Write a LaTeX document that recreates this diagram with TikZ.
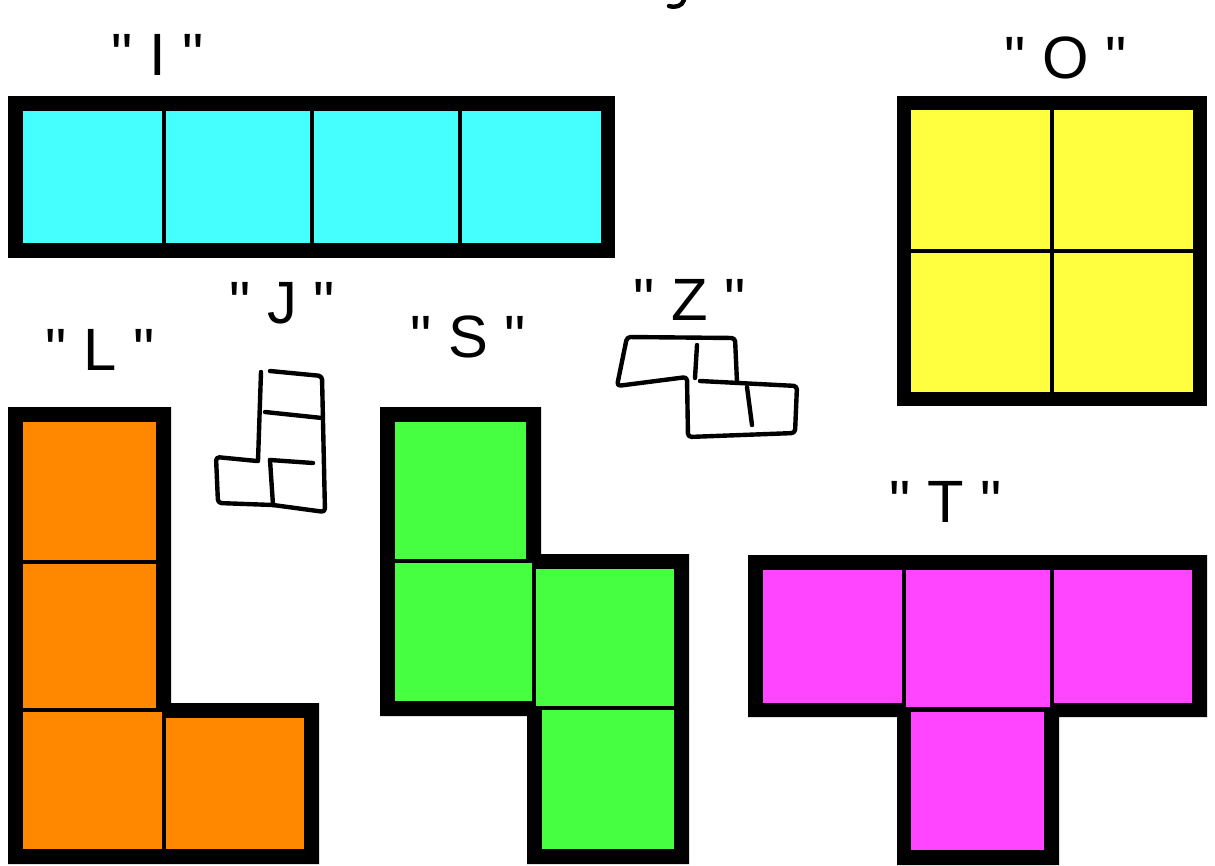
\documentclass[tikz,border=0pt]{standalone}
\usepackage{fontspec}
\newfontfamily\tagfont{Liberation Sans}
\definecolor{icyan}{HTML}{45FFFF}
\definecolor{oyellow}{HTML}{FFFF40}
\definecolor{lorange}{HTML}{FF8800}
\definecolor{sgreen}{HTML}{45FF40}
\definecolor{tmagenta}{HTML}{FF45FF}
\begin{document}
\begin{tikzpicture}[x=0.02cm, y=-0.02cm,
    frame/.style={fill=black},
    sketch/.style={draw=black, line width=2.5pt, line cap=round, line join=round, rounded corners=2pt},
    tag/.style={font=\tagfont\fontsize{34}{34}\selectfont, anchor=base, inner sep=0pt}
]
\useasboundingbox (0,0) rectangle (1215,866);

% Labels
\node[tag] (tagI) at (158,75) {"~I~"};
\node[tag] (tagO) at (1066,78) {"~O~"};
\node[tag] (tagL) at (100,370) {"~L~"};
\node[tag] (tagJ) at (282,323) {"~J~"};
\node[tag] (tagS) at (468,357) {"~S~"};
\node[tag] (tagZ) at (690,320) {"~Z~"};
\node[tag] (tagT) at (946,522) {"~T~"};

% Cut-off stroke at the top edge
\draw[sketch] (684,0) .. controls (682,6) and (676,8) .. (669,6);

% I piece (cyan)
\fill[frame] (8,96) rectangle (615,258);
\fill[icyan] (23,111) rectangle (162,243);
\fill[icyan] (166,111) rectangle (310,243);
\fill[icyan] (314,111) rectangle (458,243);
\fill[icyan] (462,111) rectangle (601,243);

% O piece (yellow)
\fill[frame] (897,96) rectangle (1207,406);
\fill[oyellow] (911,110) rectangle (1050,249);
\fill[oyellow] (1054,110) rectangle (1193,249);
\fill[oyellow] (911,253) rectangle (1050,392);
\fill[oyellow] (1054,253) rectangle (1193,392);

% L piece (orange)
\fill[frame] (8,407) -- (171,407) -- (171,703) -- (319,703) -- (319,864) -- (8,864) -- cycle;
\fill[lorange] (23,422) rectangle (156,560);
\fill[lorange] (23,564) rectangle (156,708);
\fill[lorange] (23,712) rectangle (162,849);
\fill[lorange] (166,718) rectangle (304,849);

% S piece (green)
\fill[frame] (380,407) -- (541,407) -- (541,554) -- (689,554) -- (689,864) -- (527,864) -- (527,716) -- (380,716) -- cycle;
\fill[sgreen] (395,422) rectangle (526,559);
\fill[sgreen] (395,563) rectangle (532,701);
\fill[sgreen] (536,569) rectangle (674,706);
\fill[sgreen] (542,710) rectangle (674,849);

% T piece (magenta)
\fill[frame] (748,555) -- (1207,555) -- (1207,717) -- (1059,717) -- (1059,865) -- (897,865) -- (897,717) -- (748,717) -- cycle;
\fill[tmagenta] (763,570) rectangle (902,703);
\fill[tmagenta] (906,570) rectangle (1050,707);
\fill[tmagenta] (1054,570) rectangle (1192,703);
\fill[tmagenta] (911,712) rectangle (1044,850);

% Sketched J (outline only)
\draw[sketch] (270,371) -- (322,376) -- (325,512) -- (273,505) -- (218,503) -- (216,457) -- (257,461);
\draw[sketch] (258,461) -- (261,372);
\draw[sketch] (265,412) -- (322,418);
\draw[sketch] (270,460) -- (313,463);
\draw[sketch] (270,460) -- (273,505);

% Sketched Z (outline only)
\draw[sketch] (737,382) -- (735,338) -- (627,337) -- (617,386) -- (687,377) -- (688,437) -- (795,433) -- (797,386) -- (700,381);
\draw[sketch] (697,345) -- (695,378);
\draw[sketch] (747,387) -- (752,425);

\end{tikzpicture}
\end{document}
